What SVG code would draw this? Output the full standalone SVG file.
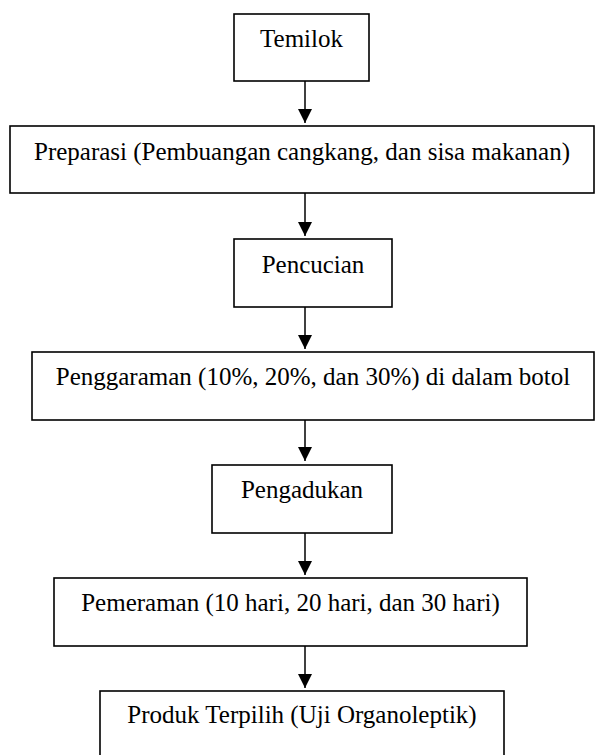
<svg xmlns="http://www.w3.org/2000/svg" width="595" height="755" viewBox="0 0 595 755">
<style>
.box{fill:#fff;stroke:#000;stroke-width:1.6}
.lbl{font-family:"Liberation Serif","Times New Roman",serif;font-size:25px;fill:#000;text-anchor:middle}
.conn{stroke:#000;stroke-width:1.5;fill:none;marker-end:url(#ah)}
</style>
<defs>
<marker id="ah" markerUnits="userSpaceOnUse" markerWidth="14" markerHeight="14" refX="14" refY="7" orient="auto">
<path d="M0,0 L14,7 L0,14 z" fill="#000"/>
</marker>
</defs>
<rect width="595" height="755" fill="#fff"/>
<g id="connectors">
<line class="conn" x1="305" y1="81" x2="305" y2="123"/>
<line class="conn" x1="305" y1="193" x2="305" y2="236"/>
<line class="conn" x1="305" y1="307" x2="305" y2="349"/>
<line class="conn" x1="305" y1="420" x2="305" y2="461"/>
<line class="conn" x1="305" y1="533" x2="305" y2="575"/>
<line class="conn" x1="305" y1="646" x2="305" y2="688"/>
</g>
<g id="temilok">
<rect class="box" x="234" y="14" width="135" height="67"/>
<text class="lbl" x="301.5" y="47">Temilok</text>
</g>
<g id="preparasi">
<rect class="box" x="10" y="126" width="584" height="67"/>
<text class="lbl" x="302" y="160">Preparasi (Pembuangan cangkang, dan sisa makanan)</text>
</g>
<g id="pencucian">
<rect class="box" x="234" y="239" width="158" height="68"/>
<text class="lbl" x="313" y="273">Pencucian</text>
</g>
<g id="penggaraman">
<rect class="box" x="32" y="352" width="562" height="68"/>
<text class="lbl" x="313" y="385">Penggaraman (10%, 20%, dan 30%) di dalam botol</text>
</g>
<g id="pengadukan">
<rect class="box" x="212" y="465" width="180" height="68"/>
<text class="lbl" x="302" y="498">Pengadukan</text>
</g>
<g id="pemeraman">
<rect class="box" x="54" y="578" width="473" height="68"/>
<text class="lbl" x="290.5" y="611">Pemeraman (10 hari, 20 hari, dan 30 hari)</text>
</g>
<g id="produk">
<rect class="box" x="100" y="691" width="404" height="70"/>
<text class="lbl" x="302" y="723">Produk Terpilih (Uji Organoleptik)</text>
</g>
</svg>
